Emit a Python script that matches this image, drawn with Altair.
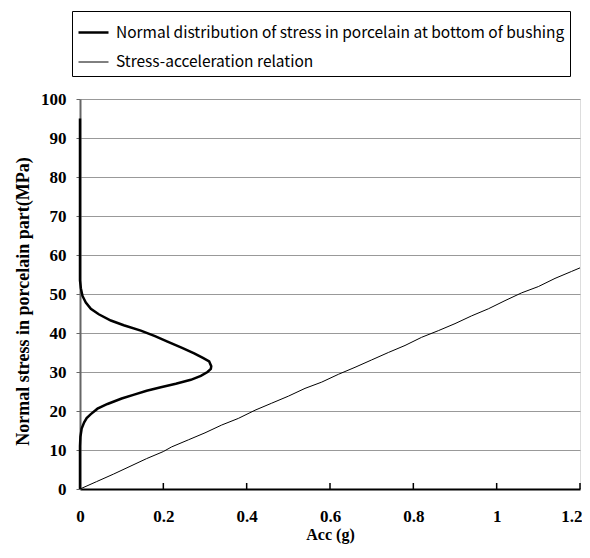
import altair as alt
import pandas as pd

# Normal distribution curve (acc, stress) along the path
norm_acc = [0, 0, 0.002, 0.006, 0.014, 0.026, 0.045, 0.074, 0.105, 0.146, 0.18, 0.21, 0.245,
            0.274, 0.295, 0.31, 0.315, 0.314, 0.306, 0.29, 0.266, 0.23, 0.194, 0.16, 0.13,
            0.1, 0.066, 0.042, 0.026, 0.016, 0.01, 0.004, 0.001, 0, 0]
norm_stress = [95, 53.5, 51.5, 49.5, 47.8, 46.2, 44.8, 43.2, 42, 40.6, 39.2, 37.8, 36.2,
               34.8, 33.6, 32.7, 31.5, 30.8, 30, 29, 28, 27, 26.1, 25.2, 24.2,
               23.2, 21.8, 20.6, 19.2, 18.2, 17.1, 15.5, 13.4, 11, 0]

# Stress-acceleration relation
rel_acc = [0, 0.04, 0.08, 0.12, 0.16, 0.2, 0.22, 0.26, 0.3, 0.34, 0.38, 0.42, 0.46, 0.5,
           0.54, 0.58, 0.62, 0.66, 0.7, 0.74, 0.78, 0.82, 0.86, 0.9, 0.94, 0.98, 1.02,
           1.06, 1.1, 1.14, 1.18, 1.2]
rel_stress = [0, 1.9, 3.8, 5.8, 7.8, 9.6, 10.8, 12.6, 14.4, 16.4, 18.1, 20.2, 22.0, 23.8,
              25.8, 27.4, 29.4, 31.2, 33.1, 35.0, 36.8, 38.9, 40.6, 42.4, 44.4, 46.2, 48.3,
              50.3, 51.9, 54.0, 55.8, 56.7]

series_names = ["Normal distribution of stress in porcelain at bottom of bushing",
                "Stress-acceleration relation"]
x_labels = [0, 0.2, 0.4, 0.6, 0.8, 1, 1.2]
x_ticks = [0.2, 0.4, 0.6, 0.8, 1.0, 1.2]
y_labels = [0, 10, 20, 30, 40, 50, 60, 70, 80, 90, 100]

rows = []
for i, (a, s) in enumerate(zip(norm_acc, norm_stress)):
    rows.append({"acc": a, "stress": s, "series": series_names[0], "order": i})
for i, (a, s) in enumerate(zip(rel_acc, rel_stress)):
    rows.append({"acc": a, "stress": s, "series": series_names[1], "order": i})
df = pd.DataFrame(rows)
ticks_df = pd.DataFrame({"acc": x_ticks})

serif = "Liberation Serif"

x_scale = alt.Scale(domain=[0, 1.2], nice=False)
y_scale = alt.Scale(domain=[0, 100], nice=False)

lines = alt.Chart(df).mark_line(color="black").encode(
    x=alt.X("acc:Q", scale=x_scale,
            axis=alt.Axis(title="Acc (g)", values=x_labels, format="~g",
                          grid=False, domainColor="black", domainWidth=2, tickSize=0,
                          labelPadding=19, labelFont=serif, labelFontSize=17,
                          labelFontWeight="bold", labelColor="black",
                          labelAlign={"condition": {"test": "datum.value >= 1.19",
                                                    "value": "right"},
                                      "value": "center"},
                          labelOffset={"condition": {"test": "datum.value >= 1.19",
                                                     "value": 2},
                                       "value": 0},
                          titleFont=serif, titleFontSize=16, titleFontWeight="bold",
                          titleColor="black", titlePadding=2, labelFlush=False)),
    y=alt.Y("stress:Q", scale=y_scale,
            axis=alt.Axis(title="Normal stress in porcelain part(MPa)",
                          values=y_labels, grid=True, gridColor="#999999",
                          gridWidth=1, domainColor="#666666", domainWidth=2,
                          tickSize=4, tickColor="#666666", labelPadding=10,
                          labelFont=serif, labelFontSize=17, labelFontWeight="bold",
                          labelColor="black", titleFont=serif, titleFontSize=18,
                          titleFontWeight="bold", titleColor="black",
                          titleX=-57, titleY=202, titleAngle=270,
                          titleBaseline="middle", labelFlush=False)),
    strokeWidth=alt.StrokeWidth("series:N",
                                scale=alt.Scale(domain=series_names, range=[2.5, 1]),
                                legend=alt.Legend(title=None, orient="none",
                                                  legendX=-8, legendY=-88,
                                                  symbolType="stroke", symbolSize=900,
                                                  symbolStrokeColor="black",
                                                  labelFont="Noto Sans CJK JP",
                                                  labelFontSize=15.5, labelColor="black",
                                                  labelLimit=600, rowPadding=5.5,
                                                  padding=5, strokeColor="black",
                                                  labelOffset=6)),
    order="order:Q",
)

tick_marks = alt.Chart(ticks_df).mark_rule(color="black", strokeWidth=1.5).encode(
    x=alt.X("acc:Q", scale=x_scale),
    y=alt.value(384),
    y2=alt.value(390),
)

chart = alt.layer(lines, tick_marks).properties(
    width=500, height=390,
    autosize=alt.AutoSizeParams(type="none"),
    padding={"left": 72, "top": 91, "right": 2, "bottom": 55},
).configure_view(stroke=None).configure(background="white")

chart.save("out.html", embed_options={"renderer": "svg", "actions": False})
